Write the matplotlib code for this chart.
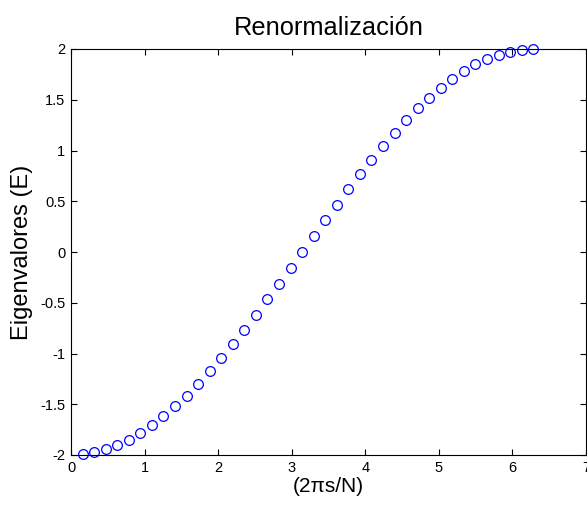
import matplotlib
matplotlib.use('Agg')
import matplotlib.pyplot as plt

# s = 1..40, x = 2*pi*s/N, eigenvalues
x_vals = [0.157, 0.314, 0.471, 0.628, 0.785, 0.942, 1.100, 1.257, 1.414, 1.571,
          1.728, 1.885, 2.042, 2.199, 2.356, 2.513, 2.670, 2.827, 2.985, 3.142,
          3.299, 3.456, 3.613, 3.770, 3.927, 4.084, 4.241, 4.398, 4.555, 4.712,
          4.869, 5.027, 5.184, 5.341, 5.498, 5.655, 5.812, 5.969, 6.126, 6.283]
eigen_vals = [-1.994, -1.975, -1.945, -1.902, -1.848, -1.782, -1.705, -1.618, -1.521, -1.414,
              -1.299, -1.176, -1.045, -0.908, -0.765, -0.618, -0.467, -0.313, -0.157, 0.000,
              0.157, 0.313, 0.467, 0.618, 0.765, 0.908, 1.045, 1.176, 1.299, 1.414,
              1.521, 1.618, 1.705, 1.782, 1.848, 1.902, 1.945, 1.975, 1.994, 2.000]

x_ticks = [0, 1, 2, 3, 4, 5, 6, 7]
y_ticks = [-2, -1.5, -1, -0.5, 0, 0.5, 1, 1.5, 2]
y_tick_labels = ['-2', '-1.5', '-1', '-0.5', '0', '0.5', '1', '1.5', '2']

plt.rcParams['font.family'] = ['Liberation Sans', 'DejaVu Sans']

fig = plt.figure(figsize=(5.87, 5.05), dpi=100)
ax = fig.add_axes([71 / 587, 50 / 505, 515 / 587, 406 / 505])

ax.plot(x_vals, eigen_vals, 'o', markerfacecolor='none', markeredgecolor='#0000ff',
        markersize=7, markeredgewidth=0.9, clip_on=False)

ax.set_xlim(0, 7)
ax.set_ylim(-2, 2)
ax.set_xticks(x_ticks)
ax.set_xticklabels([str(t) for t in x_ticks])
ax.set_yticks(y_ticks)
ax.set_yticklabels(y_tick_labels)

ax.tick_params(direction='in', length=4, width=0.8, top=True, right=True,
               labelsize=10.5, pad=4)
for sp in ax.spines.values():
    sp.set_linewidth(0.8)

ax.set_title('Renormalización', fontsize=18.3, pad=10)
ax.set_xlabel('(2πs/N)', fontsize=15, labelpad=2)
ax.set_ylabel('Eigenvalores (E)', fontsize=17, labelpad=5)

plt.savefig('out.png', dpi=100)
